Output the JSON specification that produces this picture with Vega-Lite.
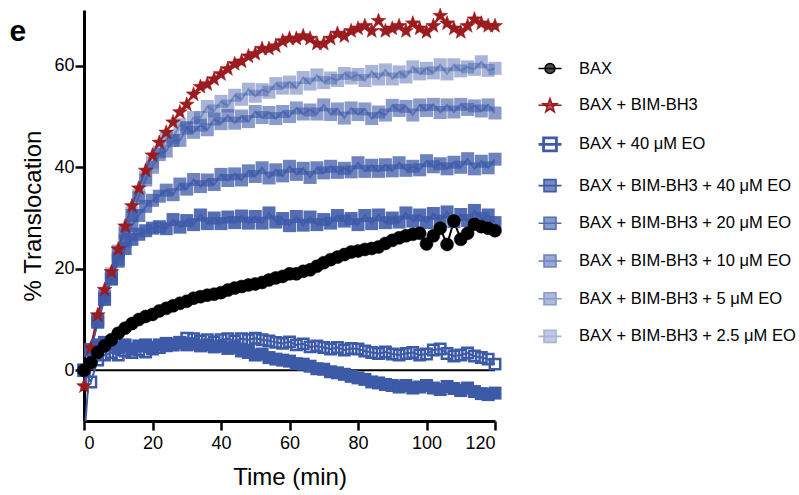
{
"$schema": "https://vega.github.io/schema/vega-lite/v6.json",
"width": 411, "height": 411,
"autosize": {"type": "none"},
"padding": {"left": 84, "top": 10, "right": 304, "bottom": 74},
"background": "white",
"datasets": {
"series": [
{"k":"a","s":"BAX"},{"k":"b","s":"BAX + BIM-BH3"},{"k":"c","s":"BAX + 40 μM EO"},{"k":"d","s":"BAX + BIM-BH3 + 40 μM EO"},{"k":"e","s":"BAX + BIM-BH3 + 20 μM EO"},{"k":"f","s":"BAX + BIM-BH3 + 10 μM EO"},{"k":"g","s":"BAX + BIM-BH3 + 5 μM EO"},{"k":"h","s":"BAX + BIM-BH3 + 2.5 μM EO"}
],
"pts": [
{"t":0,"k":"h","y":0},{"t":2,"k":"h","y":4},{"t":4,"k":"h","y":10},{"t":6,"k":"h","y":15},{"t":8,"k":"h","y":19},{"t":10,"k":"h","y":23.5},{"t":12,"k":"h","y":27.5},{"t":14,"k":"h","y":31},{"t":16,"k":"h","y":34.5},{"t":18,"k":"h","y":38},{"t":20,"k":"h","y":41},{"t":22,"k":"h","y":43},{"t":24,"k":"h","y":45.7},{"t":26,"k":"h","y":45.9},{"t":28,"k":"h","y":48.4},{"t":30,"k":"h","y":47.7},{"t":32,"k":"h","y":49.8},{"t":34,"k":"h","y":49.8},{"t":36,"k":"h","y":52},{"t":38,"k":"h","y":51.1},{"t":40,"k":"h","y":53},{"t":42,"k":"h","y":52.1},{"t":44,"k":"h","y":54.2},{"t":46,"k":"h","y":53.4},{"t":48,"k":"h","y":55.4},{"t":50,"k":"h","y":54},{"t":52,"k":"h","y":55.3},{"t":54,"k":"h","y":54.8},{"t":56,"k":"h","y":56.5},{"t":58,"k":"h","y":55.6},{"t":60,"k":"h","y":56.8},{"t":62,"k":"h","y":55.6},{"t":64,"k":"h","y":57.7},{"t":66,"k":"h","y":56.4},{"t":68,"k":"h","y":58.2},{"t":70,"k":"h","y":56.7},{"t":72,"k":"h","y":57.6},{"t":74,"k":"h","y":57.1},{"t":76,"k":"h","y":58.5},{"t":78,"k":"h","y":57.6},{"t":80,"k":"h","y":58.3},{"t":82,"k":"h","y":57.1},{"t":84,"k":"h","y":58.9},{"t":86,"k":"h","y":57.4},{"t":88,"k":"h","y":59.2},{"t":90,"k":"h","y":57.4},{"t":92,"k":"h","y":58.8},{"t":94,"k":"h","y":57.8},{"t":96,"k":"h","y":59.8},{"t":98,"k":"h","y":58.4},{"t":100,"k":"h","y":59.5},{"t":102,"k":"h","y":58.6},{"t":104,"k":"h","y":60.2},{"t":106,"k":"h","y":58.4},{"t":108,"k":"h","y":60.2},{"t":110,"k":"h","y":59},{"t":112,"k":"h","y":59.8},{"t":114,"k":"h","y":59.3},{"t":116,"k":"h","y":60.8},{"t":118,"k":"h","y":59.1},{"t":120,"k":"h","y":59.5},
{"t":0,"k":"g","y":0},{"t":2,"k":"g","y":4},{"t":4,"k":"g","y":10},{"t":6,"k":"g","y":14.5},{"t":8,"k":"g","y":18.5},{"t":10,"k":"g","y":23},{"t":12,"k":"g","y":27},{"t":14,"k":"g","y":30.5},{"t":16,"k":"g","y":34},{"t":18,"k":"g","y":37.5},{"t":20,"k":"g","y":40},{"t":22,"k":"g","y":42.5},{"t":24,"k":"g","y":43.2},{"t":26,"k":"g","y":45.3},{"t":28,"k":"g","y":45.3},{"t":30,"k":"g","y":47.8},{"t":32,"k":"g","y":46.9},{"t":34,"k":"g","y":48.3},{"t":36,"k":"g","y":47.4},{"t":38,"k":"g","y":49.5},{"t":40,"k":"g","y":48.6},{"t":42,"k":"g","y":50.2},{"t":44,"k":"g","y":48.7},{"t":46,"k":"g","y":50.1},{"t":48,"k":"g","y":49},{"t":50,"k":"g","y":51},{"t":52,"k":"g","y":49.8},{"t":54,"k":"g","y":50.8},{"t":56,"k":"g","y":49.6},{"t":58,"k":"g","y":51},{"t":60,"k":"g","y":50},{"t":62,"k":"g","y":51.7},{"t":64,"k":"g","y":50.5},{"t":66,"k":"g","y":51.3},{"t":68,"k":"g","y":50.5},{"t":70,"k":"g","y":52.3},{"t":72,"k":"g","y":50.4},{"t":74,"k":"g","y":51.5},{"t":76,"k":"g","y":49.7},{"t":78,"k":"g","y":51.7},{"t":80,"k":"g","y":50.4},{"t":82,"k":"g","y":51.5},{"t":84,"k":"g","y":49.6},{"t":86,"k":"g","y":50.9},{"t":88,"k":"g","y":50.3},{"t":90,"k":"g","y":52.2},{"t":92,"k":"g","y":51.2},{"t":94,"k":"g","y":52},{"t":96,"k":"g","y":50.3},{"t":98,"k":"g","y":52.3},{"t":100,"k":"g","y":51.2},{"t":102,"k":"g","y":52.4},{"t":104,"k":"g","y":50.8},{"t":106,"k":"g","y":52.3},{"t":108,"k":"g","y":50.9},{"t":110,"k":"g","y":52.4},{"t":112,"k":"g","y":51.4},{"t":114,"k":"g","y":52.1},{"t":116,"k":"g","y":51.1},{"t":118,"k":"g","y":52.3},{"t":120,"k":"g","y":50.7},
{"t":0,"k":"f","y":0},{"t":2,"k":"f","y":4},{"t":4,"k":"f","y":9.5},{"t":6,"k":"f","y":14},{"t":8,"k":"f","y":18},{"t":10,"k":"f","y":22},{"t":12,"k":"f","y":25.5},{"t":14,"k":"f","y":28.5},{"t":16,"k":"f","y":30.5},{"t":18,"k":"f","y":32.3},{"t":20,"k":"f","y":33.5},{"t":22,"k":"f","y":34.3},{"t":24,"k":"f","y":35.5},{"t":26,"k":"f","y":34.6},{"t":28,"k":"f","y":36.7},{"t":30,"k":"f","y":35.7},{"t":32,"k":"f","y":37.6},{"t":34,"k":"f","y":36.2},{"t":36,"k":"f","y":37.5},{"t":38,"k":"f","y":36.6},{"t":40,"k":"f","y":38.6},{"t":42,"k":"f","y":37.4},{"t":44,"k":"f","y":38.7},{"t":46,"k":"f","y":37.5},{"t":48,"k":"f","y":39.3},{"t":50,"k":"f","y":38.2},{"t":52,"k":"f","y":39.9},{"t":54,"k":"f","y":37.9},{"t":56,"k":"f","y":39.5},{"t":58,"k":"f","y":38.3},{"t":60,"k":"f","y":40.2},{"t":62,"k":"f","y":38.6},{"t":64,"k":"f","y":39.8},{"t":66,"k":"f","y":38},{"t":68,"k":"f","y":39.9},{"t":70,"k":"f","y":38.9},{"t":72,"k":"f","y":40.2},{"t":74,"k":"f","y":39},{"t":76,"k":"f","y":39.8},{"t":78,"k":"f","y":39.1},{"t":80,"k":"f","y":40.9},{"t":82,"k":"f","y":39.2},{"t":84,"k":"f","y":40.4},{"t":86,"k":"f","y":39.2},{"t":88,"k":"f","y":40.5},{"t":90,"k":"f","y":39.3},{"t":92,"k":"f","y":40.9},{"t":94,"k":"f","y":39.4},{"t":96,"k":"f","y":40.2},{"t":98,"k":"f","y":39.5},{"t":100,"k":"f","y":41.3},{"t":102,"k":"f","y":40.1},{"t":104,"k":"f","y":40.7},{"t":106,"k":"f","y":39.7},{"t":108,"k":"f","y":41},{"t":110,"k":"f","y":40},{"t":112,"k":"f","y":41.7},{"t":114,"k":"f","y":39.7},{"t":116,"k":"f","y":41.2},{"t":118,"k":"f","y":39.9},{"t":120,"k":"f","y":41.6},
{"t":0,"k":"e","y":0},{"t":2,"k":"e","y":4},{"t":4,"k":"e","y":9.5},{"t":6,"k":"e","y":14},{"t":8,"k":"e","y":18},{"t":10,"k":"e","y":21.5},{"t":12,"k":"e","y":24},{"t":14,"k":"e","y":25.8},{"t":16,"k":"e","y":26.8},{"t":18,"k":"e","y":27.5},{"t":20,"k":"e","y":28},{"t":22,"k":"e","y":28.3},{"t":24,"k":"e","y":27.9},{"t":26,"k":"e","y":29.7},{"t":28,"k":"e","y":28.2},{"t":30,"k":"e","y":29.5},{"t":32,"k":"e","y":28.7},{"t":34,"k":"e","y":30.6},{"t":36,"k":"e","y":28.9},{"t":38,"k":"e","y":30},{"t":40,"k":"e","y":28.9},{"t":42,"k":"e","y":30.2},{"t":44,"k":"e","y":29.1},{"t":46,"k":"e","y":30.4},{"t":48,"k":"e","y":29},{"t":50,"k":"e","y":30.3},{"t":52,"k":"e","y":29},{"t":54,"k":"e","y":31},{"t":56,"k":"e","y":29.2},{"t":58,"k":"e","y":29.9},{"t":60,"k":"e","y":28.5},{"t":62,"k":"e","y":30.3},{"t":64,"k":"e","y":28.6},{"t":66,"k":"e","y":30.2},{"t":68,"k":"e","y":28.7},{"t":70,"k":"e","y":29.7},{"t":72,"k":"e","y":29},{"t":74,"k":"e","y":30.5},{"t":76,"k":"e","y":29.4},{"t":78,"k":"e","y":29.9},{"t":80,"k":"e","y":28.7},{"t":82,"k":"e","y":30.5},{"t":84,"k":"e","y":28.9},{"t":86,"k":"e","y":30.6},{"t":88,"k":"e","y":29.1},{"t":90,"k":"e","y":30},{"t":92,"k":"e","y":29.2},{"t":94,"k":"e","y":31},{"t":96,"k":"e","y":29.4},{"t":98,"k":"e","y":30.6},{"t":100,"k":"e","y":29.1},{"t":102,"k":"e","y":30.9},{"t":104,"k":"e","y":29.4},{"t":106,"k":"e","y":31.2},{"t":108,"k":"e","y":29.3},{"t":110,"k":"e","y":30.7},{"t":112,"k":"e","y":29.5},{"t":114,"k":"e","y":31.5},{"t":116,"k":"e","y":29.9},{"t":118,"k":"e","y":30.6},{"t":120,"k":"e","y":29.1},
{"t":0,"k":"d","y":-14},{"t":2,"k":"d","y":4},{"t":4,"k":"d","y":5},{"t":6,"k":"d","y":5.5},{"t":8,"k":"d","y":5},{"t":10,"k":"d","y":4.5},{"t":12,"k":"d","y":5},{"t":14,"k":"d","y":4.2},{"t":16,"k":"d","y":4.8},{"t":18,"k":"d","y":5},{"t":20,"k":"d","y":4.5},{"t":22,"k":"d","y":5},{"t":24,"k":"d","y":5.3},{"t":26,"k":"d","y":5},{"t":28,"k":"d","y":5.5},{"t":30,"k":"d","y":5},{"t":32,"k":"d","y":5.2},{"t":34,"k":"d","y":4.8},{"t":36,"k":"d","y":5},{"t":38,"k":"d","y":4.6},{"t":40,"k":"d","y":4.8},{"t":42,"k":"d","y":4.3},{"t":44,"k":"d","y":4.5},{"t":46,"k":"d","y":3.8},{"t":48,"k":"d","y":3.5},{"t":50,"k":"d","y":3},{"t":52,"k":"d","y":3.2},{"t":54,"k":"d","y":2.5},{"t":56,"k":"d","y":2.2},{"t":58,"k":"d","y":2},{"t":60,"k":"d","y":1.8},{"t":62,"k":"d","y":1.3},{"t":64,"k":"d","y":1.2},{"t":66,"k":"d","y":0.8},{"t":68,"k":"d","y":0.3},{"t":70,"k":"d","y":0.2},{"t":72,"k":"d","y":-0.3},{"t":74,"k":"d","y":-0.5},{"t":76,"k":"d","y":-0.8},{"t":78,"k":"d","y":-1.2},{"t":80,"k":"d","y":-1.5},{"t":82,"k":"d","y":-1.8},{"t":84,"k":"d","y":-2.3},{"t":86,"k":"d","y":-2.5},{"t":88,"k":"d","y":-2.8},{"t":90,"k":"d","y":-3},{"t":92,"k":"d","y":-3.3},{"t":94,"k":"d","y":-3},{"t":96,"k":"d","y":-3.5},{"t":98,"k":"d","y":-3.3},{"t":100,"k":"d","y":-3},{"t":102,"k":"d","y":-3.5},{"t":104,"k":"d","y":-3.8},{"t":106,"k":"d","y":-3.2},{"t":108,"k":"d","y":-3.6},{"t":110,"k":"d","y":-4},{"t":112,"k":"d","y":-3.5},{"t":114,"k":"d","y":-4.2},{"t":116,"k":"d","y":-4.6},{"t":118,"k":"d","y":-4.8},{"t":120,"k":"d","y":-4.5},
{"t":0,"k":"c","y":0},{"t":2,"k":"c","y":-2.3},{"t":4,"k":"c","y":2},{"t":6,"k":"c","y":3},{"t":8,"k":"c","y":3.5},{"t":10,"k":"c","y":3},{"t":12,"k":"c","y":3.8},{"t":14,"k":"c","y":3.5},{"t":16,"k":"c","y":4},{"t":18,"k":"c","y":3.6},{"t":20,"k":"c","y":4.2},{"t":22,"k":"c","y":4.5},{"t":24,"k":"c","y":4.8},{"t":26,"k":"c","y":5},{"t":28,"k":"c","y":5.5},{"t":30,"k":"c","y":6.3},{"t":32,"k":"c","y":6.2},{"t":34,"k":"c","y":5.8},{"t":36,"k":"c","y":6},{"t":38,"k":"c","y":5.6},{"t":40,"k":"c","y":6},{"t":42,"k":"c","y":6.2},{"t":44,"k":"c","y":5.8},{"t":46,"k":"c","y":6.2},{"t":48,"k":"c","y":6},{"t":50,"k":"c","y":6.3},{"t":52,"k":"c","y":6},{"t":54,"k":"c","y":5.8},{"t":56,"k":"c","y":5.5},{"t":58,"k":"c","y":5.3},{"t":60,"k":"c","y":5.6},{"t":62,"k":"c","y":5},{"t":64,"k":"c","y":5.2},{"t":66,"k":"c","y":4.6},{"t":68,"k":"c","y":4.8},{"t":70,"k":"c","y":4.5},{"t":72,"k":"c","y":4.2},{"t":74,"k":"c","y":4.5},{"t":76,"k":"c","y":4},{"t":78,"k":"c","y":4.3},{"t":80,"k":"c","y":4.2},{"t":82,"k":"c","y":3.8},{"t":84,"k":"c","y":3.5},{"t":86,"k":"c","y":3.3},{"t":88,"k":"c","y":3.6},{"t":90,"k":"c","y":3.2},{"t":92,"k":"c","y":3},{"t":94,"k":"c","y":3.3},{"t":96,"k":"c","y":3.5},{"t":98,"k":"c","y":3},{"t":100,"k":"c","y":3.2},{"t":102,"k":"c","y":4},{"t":104,"k":"c","y":4.2},{"t":106,"k":"c","y":3.3},{"t":108,"k":"c","y":2.8},{"t":110,"k":"c","y":3},{"t":112,"k":"c","y":3.4},{"t":114,"k":"c","y":2.8},{"t":116,"k":"c","y":2.5},{"t":118,"k":"c","y":2.2},{"t":120,"k":"c","y":1.2},
{"t":0,"k":"b","y":-3},{"t":2,"k":"b","y":4.5},{"t":4,"k":"b","y":11},{"t":6,"k":"b","y":16},{"t":8,"k":"b","y":19.5},{"t":10,"k":"b","y":24},{"t":12,"k":"b","y":28.5},{"t":14,"k":"b","y":32.5},{"t":16,"k":"b","y":36},{"t":18,"k":"b","y":39.5},{"t":20,"k":"b","y":42.5},{"t":22,"k":"b","y":45},{"t":24,"k":"b","y":47},{"t":26,"k":"b","y":49},{"t":28,"k":"b","y":51},{"t":30,"k":"b","y":52.5},{"t":32,"k":"b","y":54.5},{"t":34,"k":"b","y":56},{"t":36,"k":"b","y":56.5},{"t":38,"k":"b","y":57.5},{"t":40,"k":"b","y":58.5},{"t":42,"k":"b","y":59.5},{"t":44,"k":"b","y":60.5},{"t":46,"k":"b","y":61},{"t":48,"k":"b","y":62},{"t":50,"k":"b","y":62.5},{"t":52,"k":"b","y":63.5},{"t":54,"k":"b","y":63.5},{"t":56,"k":"b","y":64},{"t":58,"k":"b","y":65},{"t":60,"k":"b","y":65.5},{"t":62,"k":"b","y":65.5},{"t":64,"k":"b","y":66},{"t":66,"k":"b","y":65.5},{"t":68,"k":"b","y":64.5},{"t":70,"k":"b","y":64.5},{"t":72,"k":"b","y":65.5},{"t":74,"k":"b","y":66.5},{"t":76,"k":"b","y":66},{"t":78,"k":"b","y":67},{"t":80,"k":"b","y":67.5},{"t":82,"k":"b","y":68},{"t":84,"k":"b","y":67},{"t":86,"k":"b","y":69},{"t":88,"k":"b","y":67},{"t":90,"k":"b","y":67.5},{"t":92,"k":"b","y":68},{"t":94,"k":"b","y":67},{"t":96,"k":"b","y":68.5},{"t":98,"k":"b","y":67.5},{"t":100,"k":"b","y":66.8},{"t":102,"k":"b","y":68},{"t":104,"k":"b","y":70},{"t":106,"k":"b","y":68.5},{"t":108,"k":"b","y":67.5},{"t":110,"k":"b","y":66.8},{"t":112,"k":"b","y":68},{"t":114,"k":"b","y":69.3},{"t":116,"k":"b","y":68.5},{"t":118,"k":"b","y":68},{"t":120,"k":"b","y":68},
{"t":0,"k":"a","y":0},{"t":2,"k":"a","y":1.5},{"t":4,"k":"a","y":3.5},{"t":6,"k":"a","y":4.8},{"t":8,"k":"a","y":6},{"t":10,"k":"a","y":7.3},{"t":12,"k":"a","y":8.3},{"t":14,"k":"a","y":9.2},{"t":16,"k":"a","y":10},{"t":18,"k":"a","y":10.6},{"t":20,"k":"a","y":11},{"t":22,"k":"a","y":11.7},{"t":24,"k":"a","y":12.2},{"t":26,"k":"a","y":12.7},{"t":28,"k":"a","y":13.2},{"t":30,"k":"a","y":13.6},{"t":32,"k":"a","y":14.2},{"t":34,"k":"a","y":14.5},{"t":36,"k":"a","y":14.8},{"t":38,"k":"a","y":15},{"t":40,"k":"a","y":15.3},{"t":42,"k":"a","y":15.8},{"t":44,"k":"a","y":16.2},{"t":46,"k":"a","y":16.5},{"t":48,"k":"a","y":16.8},{"t":50,"k":"a","y":17},{"t":52,"k":"a","y":17.3},{"t":54,"k":"a","y":17.8},{"t":56,"k":"a","y":18.2},{"t":58,"k":"a","y":18.5},{"t":60,"k":"a","y":19},{"t":62,"k":"a","y":19},{"t":64,"k":"a","y":19.5},{"t":66,"k":"a","y":19.8},{"t":68,"k":"a","y":20.5},{"t":70,"k":"a","y":21.2},{"t":72,"k":"a","y":21.8},{"t":74,"k":"a","y":22.3},{"t":76,"k":"a","y":22.8},{"t":78,"k":"a","y":23.3},{"t":80,"k":"a","y":23.5},{"t":82,"k":"a","y":23.8},{"t":84,"k":"a","y":24},{"t":86,"k":"a","y":24.3},{"t":88,"k":"a","y":25},{"t":90,"k":"a","y":25.6},{"t":92,"k":"a","y":26.1},{"t":94,"k":"a","y":26.5},{"t":96,"k":"a","y":26.8},{"t":98,"k":"a","y":27},{"t":100,"k":"a","y":24.9},{"t":102,"k":"a","y":26.5},{"t":104,"k":"a","y":28},{"t":106,"k":"a","y":24.8},{"t":108,"k":"a","y":29.4},{"t":110,"k":"a","y":25.8},{"t":112,"k":"a","y":27},{"t":114,"k":"a","y":28.8},{"t":116,"k":"a","y":28.3},{"t":118,"k":"a","y":28},{"t":120,"k":"a","y":27.5}
]
},
"layer": [
{
"data": {"values": [{"z": 0}]},
"mark": {"type": "rule", "color": "black", "strokeWidth": 2},
"encoding": {"y": {"field": "z", "type": "quantitative", "scale": {"domain": [-10, 71], "nice": false, "zero": false}}}
},
{
"data": {"name": "pts"},
"transform": [{"lookup": "k", "from": {"data": {"name": "series"}, "key": "k", "fields": ["s"]}}],
"mark": {"type": "line", "strokeWidth": 2, "clip": true},
"encoding": {
"x": {"field": "t", "type": "quantitative", "scale": {"domain": [0, 120], "nice": false, "zero": false}, "axis": {"values": [0, 20, 40, 60, 80, 100, 120], "title": "Time (min)"}},
"y": {"field": "y", "type": "quantitative", "scale": {"domain": [-10, 71], "nice": false, "zero": false}, "axis": {"values": [0, 20, 40, 60], "title": "% Translocation"}},
"stroke": {"field": "s", "type": "nominal", "scale": {"domain": ["BAX", "BAX + BIM-BH3", "BAX + 40 μM EO", "BAX + BIM-BH3 + 40 μM EO", "BAX + BIM-BH3 + 20 μM EO", "BAX + BIM-BH3 + 10 μM EO", "BAX + BIM-BH3 + 5 μM EO", "BAX + BIM-BH3 + 2.5 μM EO"], "range": ["#000000", "#9b1b1f", "#3d5aa8", "#3d5aa8", "#3d5aa8", "#3d5aa8", "#3d5aa8", "#3d5aa8"]}, "legend": null},
"opacity": {"field": "s", "type": "nominal", "scale": {"type": "ordinal", "domain": ["BAX", "BAX + BIM-BH3", "BAX + 40 μM EO", "BAX + BIM-BH3 + 40 μM EO", "BAX + BIM-BH3 + 20 μM EO", "BAX + BIM-BH3 + 10 μM EO", "BAX + BIM-BH3 + 5 μM EO", "BAX + BIM-BH3 + 2.5 μM EO"], "range": [1, 1, 1, 1, 0.88, 0.75, 0.6, 0.45]}, "legend": null}
}
},
{
"data": {"name": "pts"},
"transform": [{"lookup": "k", "from": {"data": {"name": "series"}, "key": "k", "fields": ["s"]}}, {"filter": "datum.y > -10"}],
"mark": {"type": "point", "filled": true, "size": 169},
"encoding": {
"x": {"field": "t", "type": "quantitative"},
"y": {"field": "y", "type": "quantitative"},
"fill": {"field": "s", "type": "nominal", "scale": {"domain": ["BAX", "BAX + BIM-BH3", "BAX + 40 μM EO", "BAX + BIM-BH3 + 40 μM EO", "BAX + BIM-BH3 + 20 μM EO", "BAX + BIM-BH3 + 10 μM EO", "BAX + BIM-BH3 + 5 μM EO", "BAX + BIM-BH3 + 2.5 μM EO"], "range": ["#000000", "#9b1b1f", "transparent", "#3d5aa8", "#3d5aa8", "#3d5aa8", "#3d5aa8", "#3d5aa8"]}, "legend": null},
"stroke": {"field": "s", "type": "nominal", "legend": null},
"shape": {"field": "s", "type": "nominal", "scale": {"domain": ["BAX", "BAX + BIM-BH3", "BAX + 40 μM EO", "BAX + BIM-BH3 + 40 μM EO", "BAX + BIM-BH3 + 20 μM EO", "BAX + BIM-BH3 + 10 μM EO", "BAX + BIM-BH3 + 5 μM EO", "BAX + BIM-BH3 + 2.5 μM EO"], "range": ["circle", "M0,-1.09L0.289,-0.288L1.14,-0.262L0.467,0.26L0.705,1.08L0,0.6L-0.705,1.08L-0.467,0.26L-1.14,-0.262L-0.289,-0.288Z", "M-0.8,-0.8L0.8,-0.8L0.8,0.8L-0.8,0.8Z", "square", "square", "square", "square", "square"]}, "legend": null},
"opacity": {"field": "s", "type": "nominal", "scale": {"type": "ordinal"}, "legend": null},
"strokeWidth": {"field": "s", "type": "nominal", "scale": {"type": "ordinal", "domain": ["BAX", "BAX + BIM-BH3", "BAX + 40 μM EO", "BAX + BIM-BH3 + 40 μM EO", "BAX + BIM-BH3 + 20 μM EO", "BAX + BIM-BH3 + 10 μM EO", "BAX + BIM-BH3 + 5 μM EO", "BAX + BIM-BH3 + 2.5 μM EO"], "range": [0.5, 0.5, 2.5, 0, 0, 0, 0, 0]}, "legend": null}
}
},
{
"data": {"name": "pts"},
"transform": [{"lookup": "k", "from": {"data": {"name": "series"}, "key": "k", "fields": ["s"]}}, {"filter": "datum.t < 0"}],
"mark": {"type": "point", "filled": true},
"encoding": {
"x": {"field": "t", "type": "quantitative"},
"y": {"field": "y", "type": "quantitative"},
"fill": {"field": "s", "type": "nominal",
"legend": {"title": null, "orient": "none", "legendX": 453, "legendY": 46, "symbolSize": 529, "labelFont": "Liberation Sans", "labelFontSize": 16.5, "labelColor": "black", "labelOffset": 16, "rowPadding": 15.7, "labelLimit": 400, "padding": 0}},
"stroke": {"field": "s", "type": "nominal"},
"opacity": {"field": "s", "type": "nominal", "scale": {"type": "ordinal"}},
"shape": {"field": "s", "type": "nominal", "scale": {"domain": ["BAX", "BAX + BIM-BH3", "BAX + 40 μM EO", "BAX + BIM-BH3 + 40 μM EO", "BAX + BIM-BH3 + 20 μM EO", "BAX + BIM-BH3 + 10 μM EO", "BAX + BIM-BH3 + 5 μM EO", "BAX + BIM-BH3 + 2.5 μM EO"], "range": ["M-1,0L1,0M-0.43,0C-0.43,-0.2375 -0.2375,-0.43 0,-0.43C0.2375,-0.43 0.43,-0.2375 0.43,0C0.43,0.2375 0.2375,0.43 0,0.43C-0.2375,0.43 -0.43,0.2375 -0.43,0Z", "M-1,0L1,0M0,-0.564L0.148,-0.144L0.594,-0.133L0.24,0.138L0.367,0.565L0,0.312L-0.367,0.565L-0.24,0.138L-0.594,-0.133L-0.148,-0.144Z", "M-1,0L1,0M-0.56,-0.56L0.56,-0.56L0.56,0.56L-0.56,0.56Z", "M-1,0L1,0M-0.52,-0.52L0.52,-0.52L0.52,0.52L-0.52,0.52Z", "M-1,0L1,0M-0.52,-0.52L0.52,-0.52L0.52,0.52L-0.52,0.52Z", "M-1,0L1,0M-0.52,-0.52L0.52,-0.52L0.52,0.52L-0.52,0.52Z", "M-1,0L1,0M-0.52,-0.52L0.52,-0.52L0.52,0.52L-0.52,0.52Z", "M-1,0L1,0M-0.52,-0.52L0.52,-0.52L0.52,0.52L-0.52,0.52Z"]}},
"strokeWidth": {"field": "s", "type": "nominal", "scale": {"type": "ordinal", "domain": ["BAX", "BAX + BIM-BH3", "BAX + 40 μM EO", "BAX + BIM-BH3 + 40 μM EO", "BAX + BIM-BH3 + 20 μM EO", "BAX + BIM-BH3 + 10 μM EO", "BAX + BIM-BH3 + 5 μM EO", "BAX + BIM-BH3 + 2.5 μM EO"], "range": [1.6, 1.6, 2.8, 1.6, 1.6, 1.6, 1.6, 1.6]}}
}
},
{
"data": {"values": [{}]},
"mark": {"type": "text", "text": "e", "font": "Liberation Sans", "fontSize": 30, "fontWeight": "bold", "color": "black", "align": "center", "baseline": "alphabetic"},
"encoding": {"x": {"datum": -19.3, "type": "quantitative"}, "y": {"datum": 64.9, "type": "quantitative"}}
}
],
"resolve": {
"scale": {"shape": "independent", "strokeWidth": "independent"},
"legend": {"fill": "independent", "stroke": "independent", "opacity": "independent", "shape": "independent", "strokeWidth": "independent"}
},
"config": {
"view": {"stroke": null},
"font": "Liberation Sans",
"axis": {"grid": false, "domainColor": "black", "domainWidth": 3, "tickColor": "black", "tickWidth": 2.5, "tickSize": 9, "labelFont": "Liberation Sans", "labelFontSize": 18, "labelColor": "black", "titleFont": "Liberation Sans", "titleFontSize": 24, "titleFontWeight": "normal", "titleColor": "black"},
"axisX": {"labelPadding": 4, "titlePadding": 13},
"axisY": {"labelPadding": 1, "titlePadding": 8}
}
}
